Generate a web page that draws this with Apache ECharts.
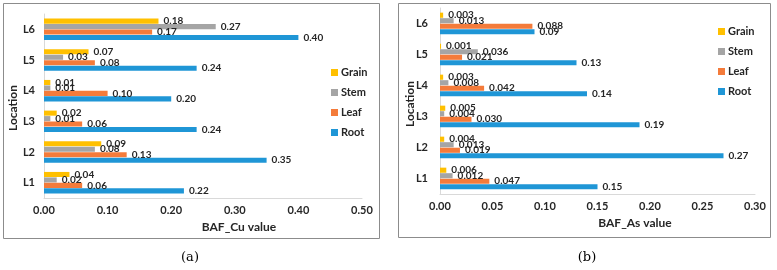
<!DOCTYPE html>
<html>
<head>
<meta charset="utf-8">
<script src="https://cdn.jsdelivr.net/npm/echarts@6/dist/echarts.min.js"></script>
<style>html,body{margin:0;padding:0;background:#fff;}#c{width:777px;height:270px;}</style>
</head>
<body>
<div id="c"></div>
<script>
const locations = ['L1', 'L2', 'L3', 'L4', 'L5', 'L6'];
const seriesNames = ['Grain', 'Stem', 'Leaf', 'Root'];
const legendOrder = ['Grain', 'Stem', 'Leaf', 'Root'];
const colors = { Grain: '#FFC000', Stem: '#A5A5A5', Leaf: '#F47B3A', Root: '#1F96D6' };

// Panel (a): BAF_Cu
const cuRoot  = [0.22, 0.35, 0.24, 0.20, 0.24, 0.40];
const cuLeaf  = [0.06, 0.13, 0.06, 0.10, 0.08, 0.17];
const cuStem  = [0.02, 0.08, 0.01, 0.01, 0.03, 0.27];
const cuGrain = [0.04, 0.09, 0.02, 0.01, 0.07, 0.18];
const cuTicks = [0, 0.5, 0.1];

// Panel (b): BAF_As
const asRoot  = [0.15, 0.27, 0.19, 0.14, 0.13, 0.09];
const asLeaf  = [0.047, 0.019, 0.030, 0.042, 0.021, 0.088];
const asStem  = [0.012, 0.013, 0.004, 0.008, 0.036, 0.013];
const asGrain = [0.006, 0.004, 0.005, 0.003, 0.001, 0.003];
const asTicks = [0, 0.3, 0.05];

const FONT = 'Lato';
const TXT = '#262626';

const cuData = { Root: cuRoot, Leaf: cuLeaf, Stem: cuStem, Grain: cuGrain };
const asData = { Root: asRoot, Leaf: asLeaf, Stem: asStem, Grain: asGrain };

function makeSeries(dataMap, idx, fmt) {
  return seriesNames.map(n => ({
    name: n,
    type: 'bar',
    xAxisIndex: idx,
    yAxisIndex: idx,
    data: dataMap[n],
    barGap: '8%',
    barCategoryGap: '30%',
    itemStyle: { color: colors[n] },
    label: {
      show: true,
      position: 'right',
      distance: 5,
      fontFamily: FONT,
      fontWeight: 'bold',
      fontSize: 10,
      color: TXT,
      formatter: p => fmt(n, p.value)
    }
  }));
}

const chart = echarts.init(document.getElementById('c'), null, { renderer: 'canvas' });

const xAxisBase = (ticks) => ({
  type: 'value',
  min: ticks[0], max: ticks[1], interval: ticks[2],
  splitLine: { show: false },
  axisTick: { show: false },
  axisLine: { show: true, lineStyle: { color: '#d9d9d9' } },
  axisLabel: {
    fontFamily: FONT, fontWeight: 'bold', fontSize: 11, color: TXT, margin: 7,
    formatter: v => v.toFixed(2)
  }
});
const yAxisBase = (margin) => ({
  type: 'category',
  data: locations,
  axisTick: { show: false },
  axisLine: { show: true, lineStyle: { color: '#d9d9d9' } },
  axisLabel: { fontFamily: FONT, fontWeight: 'bold', fontSize: 11, color: TXT, margin: margin }
});

const legendBase = (left, top) => ({
  orient: 'vertical',
  left: left, top: top,
  data: legendOrder,
  itemWidth: 7, itemHeight: 7,
  itemGap: 7,
  icon: 'rect',
  textStyle: { fontFamily: FONT, fontWeight: 'bold', fontSize: 11, color: TXT, lineHeight: 13, padding: [0, 0, 0, -2] }
});

chart.setOption({
  animation: false,
  grid: [
    { left: 44, right: 415, top: 14, bottom: 72 },
    { left: 440, right: 22, top: 8, bottom: 76 }
  ],
  xAxis: [ Object.assign(xAxisBase(cuTicks), { gridIndex: 0 }), Object.assign(xAxisBase(asTicks), { gridIndex: 1 }) ],
  yAxis: [ Object.assign(yAxisBase(9), { gridIndex: 0 }), Object.assign(yAxisBase(12), { gridIndex: 1 }) ],
  legend: [ legendBase(326, 61), legendBase(713, 20) ],
  series: [].concat(
    makeSeries(cuData, 0, (n, v) => v.toFixed(2)),
    makeSeries(asData, 1, (n, v) => n === 'Root' ? v.toFixed(2) : v.toFixed(3))
  ),
  graphic: [
    { type: 'rect', shape: { x: 3.5, y: 3.5, width: 376, height: 235 }, style: { fill: 'none', stroke: '#8c8c8c', lineWidth: 1 }, silent: true },
    { type: 'rect', shape: { x: 398.5, y: 3.5, width: 372, height: 234 }, style: { fill: 'none', stroke: '#8c8c8c', lineWidth: 1 }, silent: true },
    { type: 'text', x: 239, y: 227, style: { text: 'BAF_Cu value', fontFamily: FONT, fontWeight: 'bold', fontSize: 12, fill: TXT, align: 'center', verticalAlign: 'middle' } },
    { type: 'text', x: 635, y: 223, style: { text: 'BAF_As value', fontFamily: FONT, fontWeight: 'bold', fontSize: 12, fill: TXT, align: 'center', verticalAlign: 'middle' } },
    { type: 'text', x: 13, y: 108, rotation: Math.PI / 2, style: { text: 'Location', fontFamily: FONT, fontWeight: 'bold', fontSize: 12, fill: TXT, align: 'center', verticalAlign: 'middle' } },
    { type: 'text', x: 410, y: 104, rotation: Math.PI / 2, style: { text: 'Location', fontFamily: FONT, fontWeight: 'bold', fontSize: 12, fill: TXT, align: 'center', verticalAlign: 'middle' } },
    { type: 'text', x: 190, y: 258, style: { text: '(a)', fontFamily: 'DejaVu Serif', fontSize: 13, fill: '#000', align: 'center', verticalAlign: 'middle' } },
    { type: 'text', x: 587, y: 258, style: { text: '(b)', fontFamily: 'DejaVu Serif', fontSize: 13, fill: '#000', align: 'center', verticalAlign: 'middle' } }
  ]
});
</script>
</body>
</html>
